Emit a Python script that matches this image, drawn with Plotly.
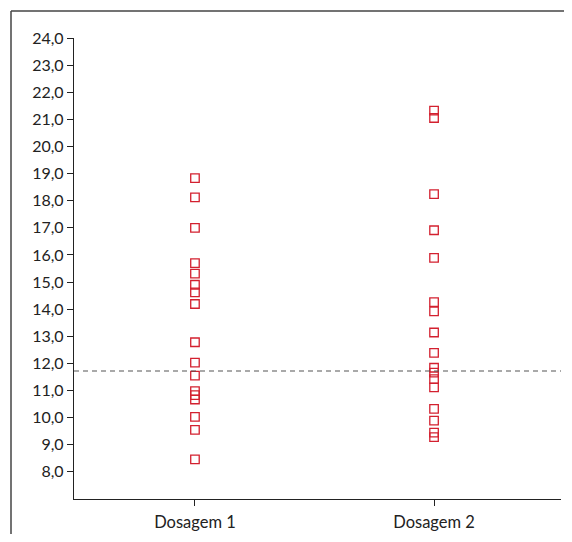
import plotly.graph_objects as go

categories = ["Dosagem 1", "Dosagem 2"]
dosagem_1 = [18.83, 18.12, 17.0, 15.7, 15.31, 14.9, 14.62, 14.19, 12.78, 12.03,
             11.55, 10.98, 10.83, 10.67, 10.03, 9.55, 8.46]
dosagem_2 = [21.32, 21.05, 18.24, 16.91, 15.89, 14.26, 13.92, 13.14, 12.39, 11.84,
             11.66, 11.42, 11.12, 10.32, 9.89, 9.45, 9.28]
reference_line = 11.72
y_ticks = list(range(8, 25))

red = "#d3202f"
font_family = "Lato, 'Open Sans', sans-serif"

# page has an 8px body margin; figure is sized to fit inside the window
W, H = 556, 526
L, T, R, B = 66, 30, 3, 35
pw, ph = W - L - R, H - T - B

fig = go.Figure()
for cat, vals in zip(categories, [dosagem_1, dosagem_2]):
    fig.add_trace(go.Scatter(
        x=[cat] * len(vals), y=vals, mode="markers",
        marker=dict(symbol="square-open", size=8.5, color=red, line=dict(width=1.3, color=red)),
        showlegend=False, hoverinfo="y",
    ))

# reference dashed line
fig.add_shape(type="line", xref="paper", yref="y", x0=0, x1=1,
              y0=reference_line, y1=reference_line,
              line=dict(color="#555555", width=1.2, dash="5px,4px"))

# outer frame (only left and top edges are visible)
fx0 = (3 - L) / pw
fy1 = 1 + (T - 3) / ph
frame = dict(color="#444444", width=1.5)
fig.add_shape(type="line", xref="paper", yref="paper", x0=fx0, x1=fx0, y0=-0.5, y1=fy1, line=frame)
fig.add_shape(type="line", xref="paper", yref="paper", x0=fx0, x1=1.3, y0=fy1, y1=fy1, line=frame)

fig.update_layout(
    width=W, height=H,
    margin=dict(l=L, r=R, t=T, b=B, autoexpand=False),
    plot_bgcolor="white", paper_bgcolor="white",
    separators=",.",
    font=dict(family=font_family, size=16, color="#222222"),
    xaxis=dict(
        type="category", range=[-0.506, 1.531],
        showline=True, linecolor="#222222", linewidth=1.3,
        ticks="outside", ticklen=6, tickcolor="#222222", tickwidth=1.2,
        showgrid=False, zeroline=False, ticklabelstandoff=2,
        tickfont=dict(size=16.5),
    ),
    yaxis=dict(
        range=[7, 24], tickvals=y_ticks, tickformat=".1f",
        showline=True, linecolor="#222222", linewidth=1.3,
        ticks="outside", ticklen=6, tickcolor="#222222", tickwidth=1.2,
        showgrid=False, zeroline=False,
        tickfont=dict(size=16),
    ),
)

fig.write_html("out.html")
